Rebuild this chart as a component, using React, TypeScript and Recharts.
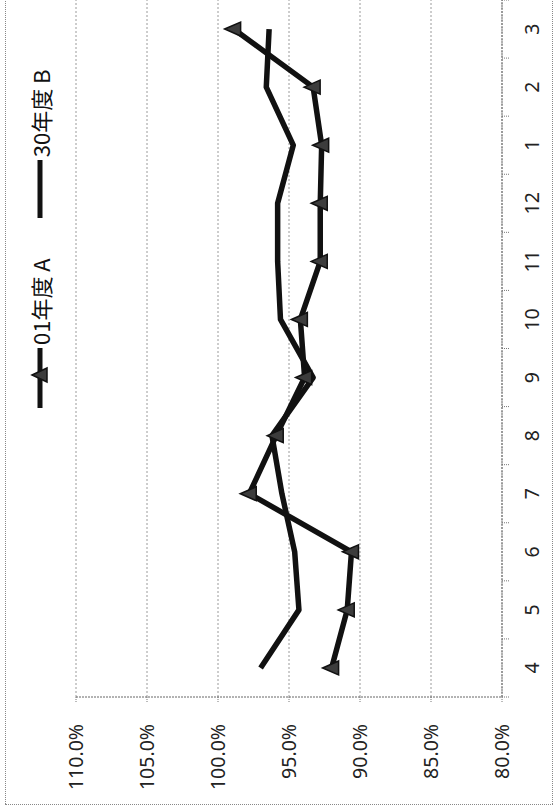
import React from "react";
import { LineChart, Line, XAxis, YAxis, CartesianGrid, Legend } from "recharts";

// months of the fiscal year, April to March
const months = ["4", "5", "6", "7", "8", "9", "10", "11", "12", "1", "2", "3"];
const seriesA = [92.0, 90.9, 90.6, 97.8, 95.9, 93.9, 94.2, 92.8, 92.8, 92.7, 93.3, 98.9];
const seriesB = [97.0, 94.3, 94.6, 95.5, 96.2, 93.3, 95.6, 95.8, 95.8, 94.7, 96.6, 96.4];
const valueTicks = [80, 85, 90, 95, 100, 105, 110];
const seriesNames = ["01年度 A", "30年度 B"];

const data = months.map((m, i) => ({ month: m, a: seriesA[i], b: seriesB[i] }));

// the chart is drawn upright and then turned a quarter turn to the left
const W = 806;
const H = 554;
const Y_AXIS_W = 109;
const BAND = (W - Y_AXIS_W) / months.length;
const FONT = "'Noto Sans', 'Liberation Sans', sans-serif";
const CJK = "'Noto Sans CJK JP', 'Noto Sans', sans-serif";

function Triangle(props: any) {
  const { cx, cy } = props;
  if (cx == null || cy == null) return null;
  return (
    <polygon
      points={`${cx},${cy - 9} ${cx + 7},${cy + 7} ${cx - 7},${cy + 7}`}
      fill="#3c3c3c"
      stroke="#111"
      strokeWidth={1.5}
    />
  );
}

function MonthTick(props: any) {
  const { x, y, payload, index } = props;
  const last = index === months.length - 1;
  return (
    <g>
      <line x1={x - BAND / 2} y1={y} x2={x - BAND / 2} y2={y + 7} stroke="#777" strokeDasharray="1 1" />
      {last && (
        <line x1={x + BAND / 2} y1={y} x2={x + BAND / 2} y2={y + 7} stroke="#777" strokeDasharray="1 1" />
      )}
      <text x={x} y={y + 30} dy="0.35em" textAnchor="middle" fill="#222" fontSize={19.5} fontFamily={FONT}>
        {payload.value}
      </text>
    </g>
  );
}

function renderLegend(props: any) {
  const { payload } = props;
  return (
    <div style={{ display: "flex", alignItems: "center", fontFamily: CJK, fontSize: 22, color: "#111" }}>
      {payload.map((p: any, i: number) => {
        const len = i === 0 ? 60 : 58;
        return (
          <div key={p.value} style={{ display: "flex", alignItems: "center", marginRight: i === 0 ? 40 : 0 }}>
            <svg width={len} height={24}>
              <line x1={0} y1={12} x2={len} y2={12} stroke="#111" strokeWidth={5} />
              {i === 0 && <polygon points="33,4 40,19 26,19" fill="#3c3c3c" stroke="#111" strokeWidth={1.5} />}
            </svg>
            <span style={{ marginLeft: 3, lineHeight: "24px" }}>{p.value}</span>
          </div>
        );
      })}
    </div>
  );
}

export default function App() {
  return (
    <div style={{ position: "fixed", left: 0, top: 0, width: H, height: W, overflow: "hidden", background: "#fff" }}>
      <div
        style={{
          position: "absolute",
          left: 0,
          top: 0,
          width: W,
          height: H,
          transformOrigin: "0 0",
          transform: `translate(0px, ${W}px) rotate(-90deg)`,
        }}
      >
        <LineChart width={W} height={H} data={data} margin={{ top: 76, right: 0, bottom: 0, left: 0 }}>
          <CartesianGrid vertical={false} stroke="#9a9a9a" strokeDasharray="2 2" />
          <XAxis
            dataKey="month"
            height={52}
            padding={{ left: BAND / 2, right: BAND / 2 }}
            axisLine={{ stroke: "#666", strokeDasharray: "2 1" }}
            tickLine={false}
            tickSize={0}
            tickMargin={0}
            interval={0}
            tick={<MonthTick />}
          />
          <YAxis
            width={Y_AXIS_W}
            domain={[80, 110]}
            ticks={valueTicks}
            interval={0}
            tickFormatter={(v: number) => v.toFixed(1) + "%"}
            axisLine={{ stroke: "#666", strokeDasharray: "2 1" }}
            tickLine={{ stroke: "#777", strokeDasharray: "1 1" }}
            tickSize={5}
            tickMargin={22}
            tick={{ fill: "#222", fontSize: 19.5, fontFamily: FONT }}
          />
          <Legend
            layout="horizontal"
            verticalAlign="middle"
            align="center"
            content={renderLegend}
            wrapperStyle={{ top: 28, left: 398, width: 400, height: 24 }}
          />
          <Line
            type="linear"
            dataKey="a"
            name={seriesNames[0]}
            stroke="#111"
            strokeWidth={5.5}
            strokeLinejoin="round"
            dot={<Triangle />}
            activeDot={false}
            isAnimationActive={false}
          />
          <Line
            type="linear"
            dataKey="b"
            name={seriesNames[1]}
            stroke="#111"
            strokeWidth={5.5}
            strokeLinejoin="round"
            dot={false}
            activeDot={false}
            isAnimationActive={false}
          />
        </LineChart>
        <div
          style={{
            position: "absolute",
            left: 1,
            top: 5,
            width: 840,
            height: 546,
            border: "1px dotted #888",
            pointerEvents: "none",
          }}
        />
      </div>
    </div>
  );
}
